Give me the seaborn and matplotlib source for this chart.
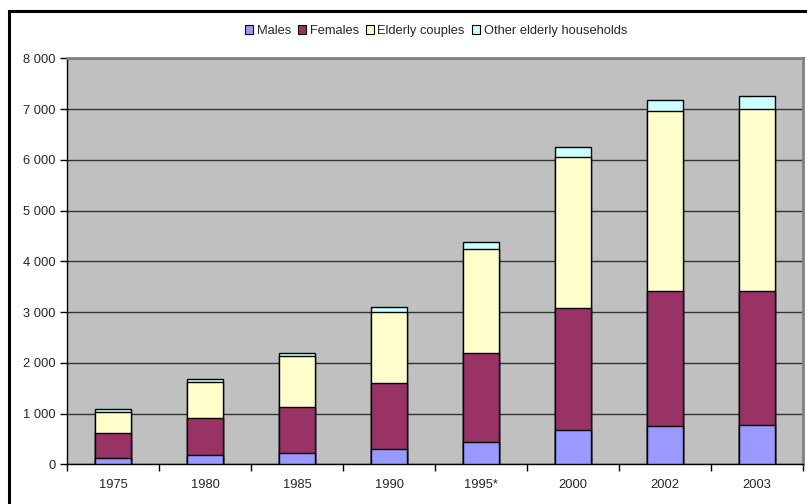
import matplotlib
matplotlib.use("Agg")
import matplotlib.pyplot as plt
from matplotlib.patches import Patch, Rectangle
from matplotlib.ticker import FixedLocator, FuncFormatter
import seaborn as sns
import pandas as pd

# Elderly households by type (thousands)
years = ["1975", "1980", "1985", "1990", "1995*", "2000", "2002", "2003"]
males = [130, 190, 217, 296, 445, 676, 749, 774]
females = [481, 716, 912, 1312, 1754, 2398, 2660, 2647]
couples = [425, 722, 999, 1399, 2043, 2988, 3558, 3580]
other = [48, 53, 65, 98, 144, 196, 217, 256]

series_names = ["Males", "Females", "Elderly couples", "Other elderly households"]
series_colors = ["#9999FF", "#993366", "#FFFFCC", "#CCFFFF"]

sns.set_style("white")
plt.rcParams["font.family"] = ["Liberation Sans", "DejaVu Sans"]

df = pd.DataFrame({"year": years, "Males": males, "Females": females,
                   "Elderly couples": couples, "Other elderly households": other})
# cumulative heights so each layer sits on the previous ones
cum = df[series_names].cumsum(axis=1)
cum["year"] = df["year"]

fig = plt.figure(figsize=(8.07, 5.04), dpi=100)
W, H = 807, 504
ax = fig.add_axes([67 / W, (H - 464.3) / H, (803 - 67) / W, (464.3 - 58.3) / H])
ax.set_facecolor("#C0C0C0")

# draw from the tallest stack down so lower segments cover upper ones
for name, color in reversed(list(zip(series_names, series_colors))):
    sns.barplot(data=cum, x="year", y=name, order=years, color=color,
                width=0.4, edgecolor="black", linewidth=1.0, saturation=1,
                ax=ax, zorder=3)

ax.set_xlim(-0.5, len(years) - 0.5)
ax.set_ylim(0, 8000)
ax.set_xlabel("")
ax.set_ylabel("")

FS = 9.3

# horizontal gridlines
ax.yaxis.set_major_locator(FixedLocator(range(0, 8001, 1000)))
ax.yaxis.set_major_formatter(FuncFormatter(lambda v, p: f"{int(v):,}".replace(",", " ")))
ax.grid(axis="y", color="#333333", linewidth=1.0, zorder=1)
ax.grid(axis="x", visible=False)
ax.set_axisbelow(True)

ax.tick_params(axis="y", which="major", direction="out", length=5, width=1,
               color="black", labelsize=FS, pad=3, left=True)
ax.tick_params(axis="x", which="major", length=0, labelsize=FS, pad=10.5)
ax.xaxis.set_minor_locator(FixedLocator([i - 0.5 for i in range(len(years) + 1)]))
ax.tick_params(axis="x", which="minor", direction="out", length=5, width=1,
               color="black", bottom=True)

for s in ["left", "bottom"]:
    ax.spines[s].set_color("black")
    ax.spines[s].set_linewidth(1.0)
for s in ["top", "right"]:
    ax.spines[s].set_color("#808080")
    ax.spines[s].set_linewidth(2.0)

handles = [Patch(facecolor=c, edgecolor="black", linewidth=0.8) for c in series_colors]
fig.legend(handles, series_names, loc="center", bbox_to_anchor=(436 / W, 1 - 31 / H),
           ncol=4, frameon=False, fontsize=FS, handlelength=0.6, handleheight=0.6,
           handletextpad=0.3, columnspacing=0.55, borderpad=0)

# outer chart frame
fig.patches.append(Rectangle((9 / W, -0.1), 1.2, 1.1 - 11 / H, transform=fig.transFigure,
                             fill=False, edgecolor="black", linewidth=2.2))

fig.savefig("out.png", dpi=100, facecolor="white")
